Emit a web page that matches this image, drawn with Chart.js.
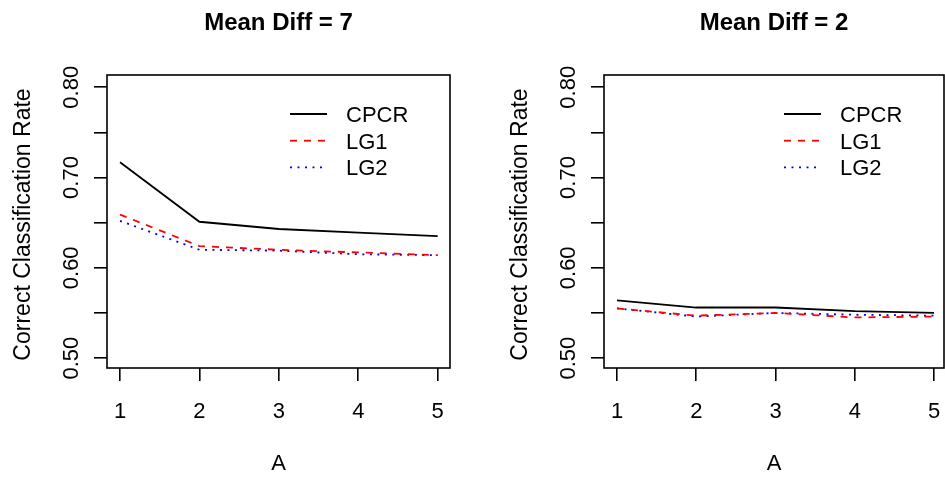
<!DOCTYPE html>
<html>
<head>
<meta charset="utf-8">
<script src="https://cdn.jsdelivr.net/npm/chart.js@4.4.1/dist/chart.umd.min.js"></script>
<style>
    body { margin: 0; background: #fff; }
    .panel { position: absolute; top: 0; height: 480px; }
</style>
</head>
<body>
<div class="panel" style="left:0;width:472px"><canvas id="leftChart" width="472" height="480"></canvas></div>
<div class="panel" style="left:472px;width:473px"><canvas id="rightChart" width="473" height="480"></canvas></div>
<script>
// values
const aValues = [1, 2, 3, 4, 5];
const yTickValues = [0.50, 0.55, 0.60, 0.65, 0.70, 0.75, 0.80];
const yTickLabels = ['0.50', '', '0.60', '', '0.70', '', '0.80'];
const seriesNames = ['CPCR', 'LG1', 'LG2'];

const cpcrDiff7 = [0.717, 0.651, 0.643, 0.639, 0.635];
const lg1Diff7 = [0.659, 0.624, 0.620, 0.617, 0.614];
const lg2Diff7 = [0.652, 0.620, 0.619, 0.615, 0.614];

const cpcrDiff2 = [0.564, 0.556, 0.556, 0.552, 0.550];
const lg1Diff2 = [0.555, 0.547, 0.550, 0.545, 0.546];
const lg2Diff2 = [0.555, 0.546, 0.550, 0.548, 0.547];

const xTitle = 'A';
const yTitle = 'Correct Classification Rate';

const FONT = '"Liberation Sans", Arial, Helvetica, sans-serif';
const seriesStyle = [
    { color: '#000000', dash: [] },
    { color: '#FF0000', dash: [7, 7] },
    { color: '#0000FF', dash: [2, 5.5] }
];

function makeDatasets(lists) {
    return lists.map((vals, i) => ({
        label: seriesNames[i],
        data: vals.map((v, j) => ({ x: aValues[j], y: v })),
        borderColor: seriesStyle[i].color,
        backgroundColor: seriesStyle[i].color,
        borderDash: seriesStyle[i].dash,
        borderWidth: 1.8,
        pointRadius: 0,
        tension: 0,
        fill: false
    }));
}

// R-style box, titles, tick labels and the legend
function rDecor(title) {
    return {
        id: 'rDecor',
        afterDraw(chart) {
            const { ctx, chartArea: a, scales } = chart;
            const midX = (a.left + a.right) / 2;
            ctx.save();
            ctx.strokeStyle = '#000';
            ctx.lineWidth = 1.6;
            ctx.setLineDash([]);
            ctx.strokeRect(a.left, a.top, a.right - a.left, a.bottom - a.top);

            ctx.fillStyle = '#000';
            ctx.textBaseline = 'alphabetic';
            ctx.textAlign = 'center';
            ctx.font = 'bold 24px ' + FONT;
            ctx.fillText(title, midX, 30);

            ctx.font = '22px ' + FONT;
            aValues.forEach(v => {
                ctx.fillText(String(v), scales.x.getPixelForValue(v), a.bottom + 50);
            });
            ctx.fillText(xTitle, midX, a.bottom + 102);

            yTickValues.forEach((v, i) => {
                if (!yTickLabels[i]) return;
                ctx.save();
                ctx.translate(a.left - 29, scales.y.getPixelForValue(v));
                ctx.rotate(-Math.PI / 2);
                ctx.fillText(yTickLabels[i], 0, 0);
                ctx.restore();
            });

            ctx.save();
            ctx.font = '23px ' + FONT;
            ctx.translate(a.left - 77, (a.top + a.bottom) / 2 + 3);
            ctx.rotate(-Math.PI / 2);
            ctx.fillText(yTitle, 0, 0);
            ctx.restore();

            // legend (no frame, like R's bty = "n")
            ctx.textAlign = 'left';
            chart.data.datasets.forEach((ds, i) => {
                const y = a.top + 39 + i * 26.7;
                ctx.strokeStyle = ds.borderColor;
                ctx.lineWidth = 1.8;
                ctx.setLineDash(ds.borderDash);
                ctx.beginPath();
                ctx.moveTo(a.right - 160, y);
                ctx.lineTo(a.right - 123, y);
                ctx.stroke();
                ctx.setLineDash([]);
                ctx.fillStyle = '#000';
                ctx.fillText(ds.label, a.right - 104, y + 8);
            });
            ctx.restore();
        }
    };
}

function renderPanel(canvasId, title, lists, rightPad, xMax) {
    const ctx = document.getElementById(canvasId).getContext('2d');
    return new Chart(ctx, {
        type: 'line',
        data: { datasets: makeDatasets(lists) },
        options: {
            responsive: false,
            animation: false,
            devicePixelRatio: 1,
            layout: { padding: { left: 0, top: 75, right: rightPad, bottom: 0 } },
            plugins: { legend: { display: false }, title: { display: false }, tooltip: { enabled: false } },
            scales: {
                x: {
                    type: 'linear',
                    min: 0.836,
                    max: xMax,
                    afterBuildTicks: scale => { scale.ticks = aValues.map(v => ({ value: v })); },
                    afterFit: scale => { scale.height = 112; },
                    ticks: { display: false },
                    border: { display: false },
                    grid: { drawOnChartArea: false, drawTicks: true, tickLength: 13, color: '#000', lineWidth: 1.6 }
                },
                y: {
                    min: 0.489,
                    max: 0.8136,
                    afterBuildTicks: scale => { scale.ticks = yTickValues.map(v => ({ value: v })); },
                    afterFit: scale => { scale.width = rightPad === 22 ? 107 : 132; },
                    ticks: { display: false },
                    border: { display: false },
                    grid: { drawOnChartArea: false, drawTicks: true, tickLength: 13, color: '#000', lineWidth: 1.6 }
                }
            }
        },
        plugins: [rDecor(title)]
    });
}

document.addEventListener('DOMContentLoaded', function () {
    renderPanel('leftChart', 'Mean Diff = 7', [cpcrDiff7, lg1Diff7, lg2Diff7], 22, 5.155);
    renderPanel('rightChart', 'Mean Diff = 2', [cpcrDiff2, lg1Diff2, lg2Diff2], 1, 5.126);
});
</script>
</body>
</html>
